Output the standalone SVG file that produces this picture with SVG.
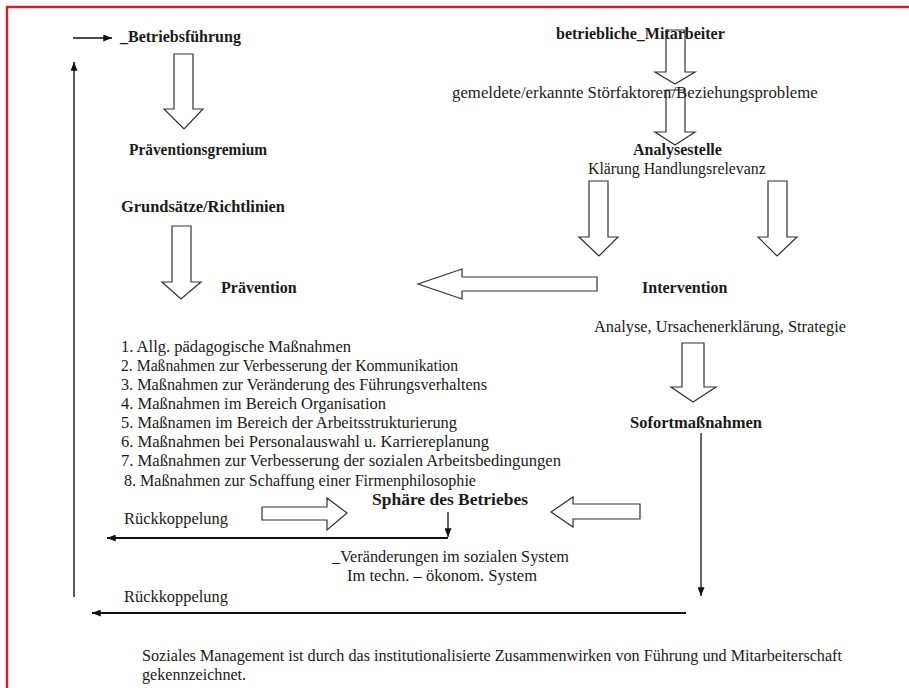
<svg xmlns="http://www.w3.org/2000/svg" width="909" height="688" viewBox="0 0 909 688">
<defs>
<style>
text{font-family:"Liberation Serif","Times New Roman",serif;fill:#1a1a1a}
.b{font-weight:bold;font-size:16px}
.r{font-size:16px}
.l{font-size:16.2px}
.s{font-size:16.1px}
.h{fill:#fff;stroke:#333;stroke-width:1.2}
.ln{stroke:#111;fill:none}
</style>
<marker id="ah" viewBox="0 0 10 8" refX="10" refY="4" markerWidth="9" markerHeight="7" orient="auto" markerUnits="userSpaceOnUse"><path d="M0,0 L10,4 L0,8 Z" fill="#111"/></marker>
</defs>
<rect width="909" height="688" fill="#fff"/>
<path d="M7,688 V7 H909" fill="none" stroke="#c0283a" stroke-width="2.5"/>
<g id="connectors">
<path class="h" d="M174,54 H193 V109 H203 L184,129 L164,109 H174 Z"/>
<path class="h" d="M666,30 H685 V72 H695 L675,84 L655,72 H666 Z"/>
<path class="h" d="M666,90 H685 V132 H695 L675,145 L655,132 H666 Z"/>
<path class="h" d="M172,226 H191 V282 H201 L181,299 L162,282 H172 Z"/>
<path class="h" d="M589,181 H608 V237 H618 L599,256 L579,237 H589 Z"/>
<path class="h" d="M768,181 H787 V237 H797 L777,256 L758,237 H768 Z"/>
<path class="h" d="M597,277 V291 H462 V299 L418,284 L462,269 V277 Z"/>
<path class="h" d="M682,343 H704 V387 H716 L693,402 L671,387 H682 Z"/>
<path class="h" d="M262,507 H327 V498 L347,513 L327,530 V520 H262 Z"/>
<path class="h" d="M640,504 V519 H573 V527 L551,512 L573,497 V504 Z"/>
<path class="ln" stroke-width="1.6" d="M73,38 H112" marker-end="url(#ah)"/>
<path class="ln" stroke-width="1.4" d="M74,597 V62" marker-end="url(#ah)"/>
<path class="ln" stroke-width="1.3" d="M448,512 V537" marker-end="url(#ah)"/>
<path class="ln" stroke-width="2" d="M448,538 H107" marker-end="url(#ah)"/>
<path class="ln" stroke-width="1.3" stroke="#444" d="M701,433 V596" marker-end="url(#ah)"/>
<path class="ln" stroke-width="2" d="M686,613 H92" marker-end="url(#ah)"/>
</g>
<g id="n-betriebsfuehrung"><text class="b" x="120" y="42">_Betriebsführung</text></g>
<g id="n-mitarbeiter"><text class="b" x="556" y="39">betriebliche_Mitarbeiter</text></g>
<g id="n-stoerfaktoren"><text class="r" x="452" y="98" style="font-size:16.8px">gemeldete/erkannte Störfaktoren/Beziehungsprobleme</text></g>
<g id="n-gremium"><text class="b" x="129" y="155" textLength="138" lengthAdjust="spacingAndGlyphs">Präventionsgremium</text></g>
<g id="n-analysestelle"><text class="b" x="633" y="155">Analysestelle</text><text class="r" x="588" y="174" style="font-size:15.8px">Klärung Handlungsrelevanz</text></g>
<g id="n-grundsaetze"><text class="b" x="121" y="212" textLength="164" lengthAdjust="spacingAndGlyphs">Grundsätze/Richtlinien</text></g>
<g id="n-praevention"><text class="b" x="221" y="293">Prävention</text></g>
<g id="n-intervention"><text class="b" x="642" y="293">Intervention</text><text class="r" x="594" y="332" style="font-size:16.4px" textLength="252" lengthAdjust="spacingAndGlyphs">Analyse, Ursachenerklärung, Strategie</text></g>
<g id="n-massnahmen">
<text class="l" x="121" y="352" textLength="230" lengthAdjust="spacingAndGlyphs">1. Allg. pädagogische Maßnahmen</text>
<text class="l" x="121" y="371" textLength="337" lengthAdjust="spacingAndGlyphs">2. Maßnahmen zur Verbesserung der Kommunikation</text>
<text class="l" x="121" y="390" textLength="366" lengthAdjust="spacingAndGlyphs">3. Maßnahmen zur Veränderung des Führungsverhaltens</text>
<text class="l" x="121" y="409" textLength="265" lengthAdjust="spacingAndGlyphs">4. Maßnahmen im Bereich Organisation</text>
<text class="l" x="121" y="428" textLength="336" lengthAdjust="spacingAndGlyphs">5. Maßnamen im Bereich der Arbeitsstrukturierung</text>
<text class="l" x="121" y="447" textLength="368" lengthAdjust="spacingAndGlyphs">6. Maßnahmen bei Personalauswahl u. Karriereplanung</text>
<text class="l" x="121" y="466" textLength="440" lengthAdjust="spacingAndGlyphs">7. Maßnahmen zur Verbesserung der sozialen Arbeitsbedingungen</text>
<text class="l" x="124" y="486" textLength="352" lengthAdjust="spacingAndGlyphs">8. Maßnahmen zur Schaffung einer Firmenphilosophie</text>
</g>
<g id="n-sofort"><text class="b" x="630" y="428" textLength="132" lengthAdjust="spacingAndGlyphs">Sofortmaßnahmen</text></g>
<g id="n-sphaere"><text class="b" x="372" y="505" style="font-size:17.2px" textLength="156" lengthAdjust="spacingAndGlyphs">Sphäre des Betriebes</text></g>
<g id="n-rueck1"><text class="l" x="124" y="524" style="font-size:16.5px" textLength="104" lengthAdjust="spacingAndGlyphs">Rückkoppelung</text></g>
<g id="n-veraenderungen"><text class="l" x="332" y="562" textLength="237" lengthAdjust="spacingAndGlyphs">_Veränderungen im sozialen System</text><text class="l" x="347" y="581" textLength="190" lengthAdjust="spacingAndGlyphs">Im techn. – ökonom. System</text></g>
<g id="n-rueck2"><text class="l" x="124" y="602" style="font-size:16.5px" textLength="104" lengthAdjust="spacingAndGlyphs">Rückkoppelung</text></g>
<g id="n-fazit"><text class="s" x="142" y="661" textLength="700" lengthAdjust="spacingAndGlyphs">Soziales Management ist durch das institutionalisierte Zusammenwirken von Führung und Mitarbeiterschaft</text><text class="s" x="142" y="680">gekennzeichnet.</text></g>
</svg>
